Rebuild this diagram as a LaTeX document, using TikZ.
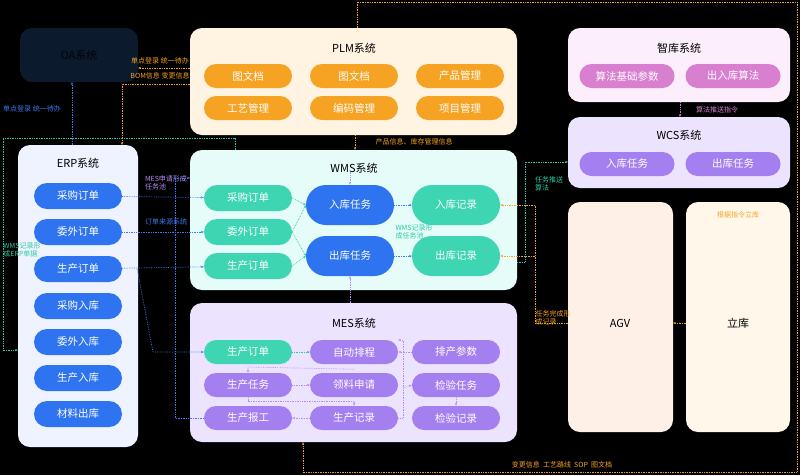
\documentclass[tikz,border=0pt]{standalone}
\usepackage{fontspec}
\setmainfont{Noto Sans CJK SC}
\usetikzlibrary{arrows.meta}
\definecolor{bg}{HTML}{000000}
\definecolor{oaf}{HTML}{0C1A2E}
\definecolor{plmf}{HTML}{FFF3E2}
\definecolor{org}{HTML}{F6A324}
\definecolor{erpf}{HTML}{EEF3FF}
\definecolor{blu}{HTML}{2E74F0}
\definecolor{wmsf}{HTML}{E5FCF8}
\definecolor{grn}{HTML}{3DD5B2}
\definecolor{mesf}{HTML}{ECE3FF}
\definecolor{pur}{HTML}{A47FF0}
\definecolor{zkf}{HTML}{FCEEFB}
\definecolor{pnk}{HTML}{D97FD0}
\definecolor{agvf}{HTML}{FFF0E7}
\definecolor{lkf}{HTML}{FFF8EA}
\definecolor{lblu}{HTML}{3B7BF0}
\definecolor{lgrn}{HTML}{2FC9A5}
\definecolor{lpur}{HTML}{B68CF5}
\begin{document}
\begin{tikzpicture}[x=1pt,y=-1pt,
 panel/.style={rounded corners=12pt,draw=none},
 ttl/.style={font=\fontsize{11}{13}\selectfont,text=black},
 pill/.style={rounded corners=12pt,minimum width=88pt,minimum height=24pt,text=white,font=\fontsize{10.5}{12}\selectfont,inner sep=0pt},
 big/.style={pill,minimum height=40pt,rounded corners=20pt},
 lab/.style={font=\fontsize{7}{8.5}\selectfont,align=left,inner sep=0pt},
 dl/.style={densely dotted,line width=0.7pt,-{Stealth[length=3pt]}},
 dn/.style={densely dotted,line width=0.7pt}]
\fill[bg] (0,0) rectangle (800,475);
\useasboundingbox (0,0) rectangle (800,475);
% panels
\fill[oaf,panel] (20,28) rectangle (138,82);
\node[ttl,text=black!85!oaf] (oa) at (79,55) {OA系统};
\fill[plmf,panel] (190,28) rectangle (517,135);
\node[ttl] (plm) at (354,48) {PLM系统};
\fill[erpf,panel] (18,145) rectangle (138,447);
\node[ttl] (erp) at (78,163) {ERP系统};
\fill[wmsf,panel] (190,150) rectangle (517,290);
\node[ttl] (wms) at (354,168) {WMS系统};
\fill[mesf,panel] (190,303) rectangle (517,442);
\node[ttl] (mes) at (354,323) {MES系统};
\fill[zkf,panel] (568,28) rectangle (790,102);
\node[ttl] (zk) at (679,48) {智库系统};
\fill[mesf,panel] (568,117) rectangle (790,188);
\node[ttl] (wcs) at (679,135) {WCS系统};
\fill[agvf,panel] (568,202) rectangle (673,432);
\node[ttl] (agv) at (620,323) {AGV};
\fill[lkf,panel] (686,202) rectangle (790,432);
\node[ttl] (lk) at (738,323) {立库};
\node[lab,text=org] (lkl) at (738,215) {根据指令立库};
% PLM pills
\node[pill,fill=org] (p1) at (248,76) {图文档};
\node[pill,fill=org] (p2) at (354,76) {图文档};
\node[pill,fill=org] (p3) at (460,76) {产品管理};
\node[pill,fill=org] (p4) at (248,108) {工艺管理};
\node[pill,fill=org] (p5) at (354,108) {编码管理};
\node[pill,fill=org] (p6) at (460,108) {项目管理};
% ERP pills
\foreach \n/\t/\y in {e1/采购订单/196,e2/委外订单/232,e3/生产订单/269,e4/采购入库/306,e5/委外入库/342,e6/生产入库/378,e7/材料出库/414}
  \node[pill,fill=blu,minimum height=26pt,rounded corners=13pt] (\n) at (78,\y) {\t};
% WMS
\node[pill,fill=grn,minimum height=26pt,rounded corners=13pt] (w1) at (248,198) {采购订单};
\node[pill,fill=grn,minimum height=26pt,rounded corners=13pt] (w2) at (248,232) {委外订单};
\node[pill,fill=grn,minimum height=26pt,rounded corners=13pt] (w3) at (248,266) {生产订单};
\node[big,fill=blu] (wi) at (350,205) {入库任务};
\node[big,fill=blu] (wo) at (350,256) {出库任务};
\node[big,fill=grn] (ri) at (456,205) {入库记录};
\node[big,fill=grn] (ro) at (456,256) {出库记录};
\node[lab,text=lgrn] (wl) at (414,232) {WMS记录形\\成任务池};
% MES
\node[pill,fill=grn] (m1) at (248,352) {生产订单};
\node[pill,fill=pur] (m2) at (354,352) {自动排程};
\node[pill,fill=pur] (m3) at (456,352) {排产参数};
\node[pill,fill=pur] (m4) at (248,385) {生产任务};
\node[pill,fill=pur] (m5) at (354,385) {领料申请};
\node[pill,fill=pur] (m6) at (456,385) {检验任务};
\node[pill,fill=pur] (m7) at (248,418) {生产报工};
\node[pill,fill=pur] (m8) at (354,418) {生产记录};
\node[pill,fill=pur] (m9) at (456,418) {检验记录};
% zk / wcs pills
\node[pill,fill=pnk,minimum width=95pt] (z1) at (627,76) {算法基础参数};
\node[pill,fill=pnk,minimum width=95pt] (z2) at (733,76) {出入库算法};
\node[pill,fill=pur,minimum width=95pt] (c1) at (627,164) {入库任务};
\node[pill,fill=pur,minimum width=95pt] (c2) at (733,164) {出库任务};
% coordinates
\coordinate (oab) at (72,82);
\coordinate (erpt) at (72,145);
\coordinate (oar) at (138,68);
\coordinate (plml) at (190,68);
\coordinate (plml2) at (190,84);
\coordinate (erpt2) at (122,145);
\coordinate (wmst) at (235,150);
\coordinate (erpl) at (18,350);
\coordinate (plmt) at (357,28);
\coordinate (mesb) at (303,442);
\coordinate (plmb) at (355,135);
\coordinate (wmstt) at (355,150);
\coordinate (wmsr) at (517,262);
\coordinate (wcsl) at (568,162);
\coordinate (agvl) at (568,323);
\coordinate (agvr) at (673,323);
\coordinate (lkl2) at (686,323);
\coordinate (zkb) at (680,102);
\coordinate (wcst) at (680,117);
% connectors
\draw[dl,lblu] (erpt) -- (oab);
\node[lab,text=lblu] (l1) at (32,109) {单点登录 统一待办};
\draw[dl,org] (plml) -- (oar);
\node[lab,text=org] (l2) at (160,61) {单点登录 统一待办};
\node[lab,text=org] (l3) at (160,76) {BOM信息 变更信息};
\draw[dl,org] (plml2) -- (122,84) -- (erpt2);
\draw[dl,lgrn] (wmst) -- (235,138) -- (3,138) -- (3,350) -- (erpl);
\node[lab,text=lgrn] (l4) at (22,250) {WMS记录形\\成ERP单据};
\draw[dl,org] (plmt) -- (357,2) -- (797,2) -- (797,472) -- (303,472) -- (mesb);
\node[lab,text=org] (l5) at (562,465) {变更信息\ \ 工艺路线\ \ SOP\ \ 图文档};
\draw[dl,org] (plmb) -- (wmstt);
\node[lab,text=org] (l6) at (414,142) {产品信息、库存管理信息};
\draw[dl,lblu] (e1) -- (w1);
\draw[dl,lblu] (e2) -- (w2);
\draw[dl,lblu] (e3) -- (w3);
\node[lab,text=lpur] (l7) at (166,183) {MES申请形成\\任务池};
\node[lab,text=lblu] (l8) at (166,222) {订单来源系统};
\draw[dl,lblu] (e3.east) ++(15,0) -- (153,352) -- (m1);
\draw[dl,lblu] (m7) -- (175,418) -- (175,178) -- (190,178);
\draw[dl,lgrn] (w1.east) -- (wi.west);
\draw[dl,lgrn] (w2.east) -- (wi.west);
\draw[dl,lgrn] (w2.east) -- (wo.west);
\draw[dl,lgrn] (w3.east) -- (wo.west);
\draw[dl,lblu] (wi) -- (ri);
\draw[dl,lblu] (wo) -- (ro);
\draw[dl,lpur] (350,170) -- (wi);
\draw[dl,lpur] (350,303) -- (wo);
\draw[dl,lgrn] (wmsr) -- (525,262) -- (525,162) -- (wcsl);
\node[lab,text=lgrn] (l9) at (549,184) {任务推送\\算法};
\draw[dl,org] (agvl) -- (535,323) -- (535,205) -- (ri.east);
\draw[dl,org] (535,256) -- (ro.east);
\node[lab,text=org] (l10) at (553,318) {任务完成形\\成记录};
\draw[dl,org] (lkl2) -- (agvr);
\draw[dl,pnk] (zkb) -- (wcst);
\node[lab,text=pnk] (l11) at (717,110) {算法推送指令};
% MES internals
\draw[dl,lgrn] (m1) -- (m2);
\draw[dl,lpur] (m3) -- (m2);
\draw[dl,lpur] (m2.south) ++(0,5) -- (248,367) -- (m4.north);
\draw[dl,lpur] (m4) -- (m5);
\draw[dl,lpur] (248,397) -- (248,401) -- (354,401) -- (m8.north);
\draw[dl,lpur] (m8) -- (m7);
\draw[dl,lpur] (m8.east) -- (403,418) -- (403,340) -- (398,340);
\draw[dl,lpur] (403,388) -- (m6.west);
\draw[dl,lpur] (m6) -- (m9);
\end{tikzpicture}
\end{document}
